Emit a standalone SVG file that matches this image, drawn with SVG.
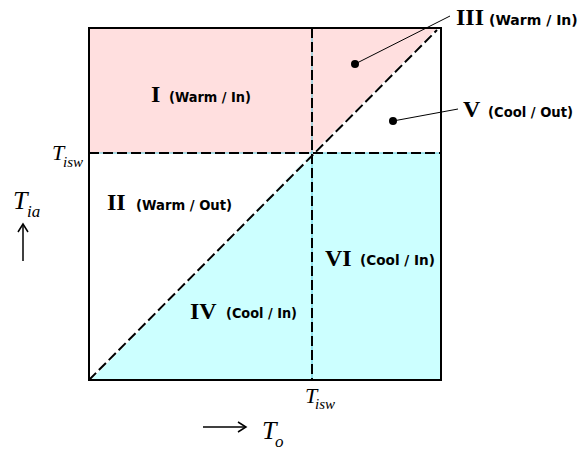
<svg xmlns="http://www.w3.org/2000/svg" width="581" height="450" viewBox="0 0 581 450">
<defs>
<style>
.num{font-family:"Liberation Serif","Times New Roman",serif;font-weight:bold;font-size:24px;fill:#000}
.lab{font-family:"DejaVu Sans",sans-serif;font-weight:bold;font-size:14px;fill:#000}
.ti{font-family:"Liberation Serif","Times New Roman",serif;font-style:italic;fill:#000}
.dash{stroke:#000;stroke-width:2;stroke-dasharray:10,4;fill:none}
.under{stroke:#5BC8DC;stroke-width:1;fill:none}
.lead{stroke:#000;stroke-width:1;fill:none}
.arr{stroke:#000;stroke-width:1.5;fill:none}
</style>
<marker id="head" markerWidth="12" markerHeight="12" refX="10" refY="6" orient="auto" markerUnits="userSpaceOnUse">
<path d="M2,1 L10,6 L2,11" fill="none" stroke="#000" stroke-width="1.5"/>
</marker>
</defs>
<rect width="581" height="450" fill="#fff"/>
<g id="regions">
<polygon id="warm-fill" points="89,28 439,28 312,153 89,153" fill="#FFDFDF"/>
<polygon id="cool-fill" points="89,380 312,153 441,153 441,380" fill="#CCFFFF"/>
<line class="under" x1="89" y1="153" x2="441" y2="153"/>
<line class="under" x1="312" y1="28" x2="312" y2="380"/>
<line stroke="#fff" stroke-width="2.5" x1="89" y1="380" x2="438" y2="29"/>
</g>
<g id="frame">
<rect x="89" y="28" width="352" height="352" fill="none" stroke="#000" stroke-width="2"/>
</g>
<g id="connectors">
<line class="dash" x1="89" y1="153" x2="441" y2="153"/>
<line class="dash" x1="312" y1="28" x2="312" y2="380"/>
<line class="dash" x1="89" y1="380" x2="437" y2="30"/>
<line class="lead" x1="355" y1="64" x2="450" y2="16"/>
<line class="lead" x1="393" y1="121" x2="458" y2="109"/>
<circle cx="355" cy="64" r="4" fill="#000"/>
<circle cx="393" cy="121" r="4" fill="#000"/>
<line class="arr" x1="23" y1="261" x2="23" y2="224" marker-end="url(#head)"/>
<line class="arr" x1="203" y1="427" x2="246" y2="427" marker-end="url(#head)"/>
</g>
<g id="region-I"><text class="num" x="151" y="102">I</text><text class="lab" x="169" y="102" textLength="82" lengthAdjust="spacingAndGlyphs">(Warm / In)</text></g>
<g id="region-II"><text class="num" x="107" y="210">II</text><text class="lab" x="136" y="210" textLength="96" lengthAdjust="spacingAndGlyphs">(Warm / Out)</text></g>
<g id="region-III"><text class="num" x="456" y="25">III</text><text class="lab" x="489" y="25" font-size="13">(Warm / In)</text></g>
<g id="region-IV"><text class="num" x="190" y="319">IV</text><text class="lab" x="226" y="318" textLength="71" lengthAdjust="spacingAndGlyphs">(Cool / In)</text></g>
<g id="region-V"><text class="num" x="463" y="117">V</text><text class="lab" x="488" y="117" textLength="85" lengthAdjust="spacingAndGlyphs">(Cool / Out)</text></g>
<g id="region-VI"><text class="num" x="325" y="266">VI</text><text class="lab" x="360" y="265" textLength="75" lengthAdjust="spacingAndGlyphs">(Cool / In)</text></g>
<g id="axis-labels">
<text class="ti" x="52" y="160" font-size="22">T</text><text class="ti" x="63" y="167" font-size="15">isw</text>
<text class="ti" x="305" y="403" font-size="22">T</text><text class="ti" x="315" y="409" font-size="15">isw</text>
<text class="ti" x="13" y="209" font-size="26">T</text><text class="ti" x="27" y="217" font-size="17">ia</text>
<text class="ti" x="262" y="439" font-size="26">T</text><text class="ti" x="275" y="447" font-size="17">o</text>
</g>
</svg>
